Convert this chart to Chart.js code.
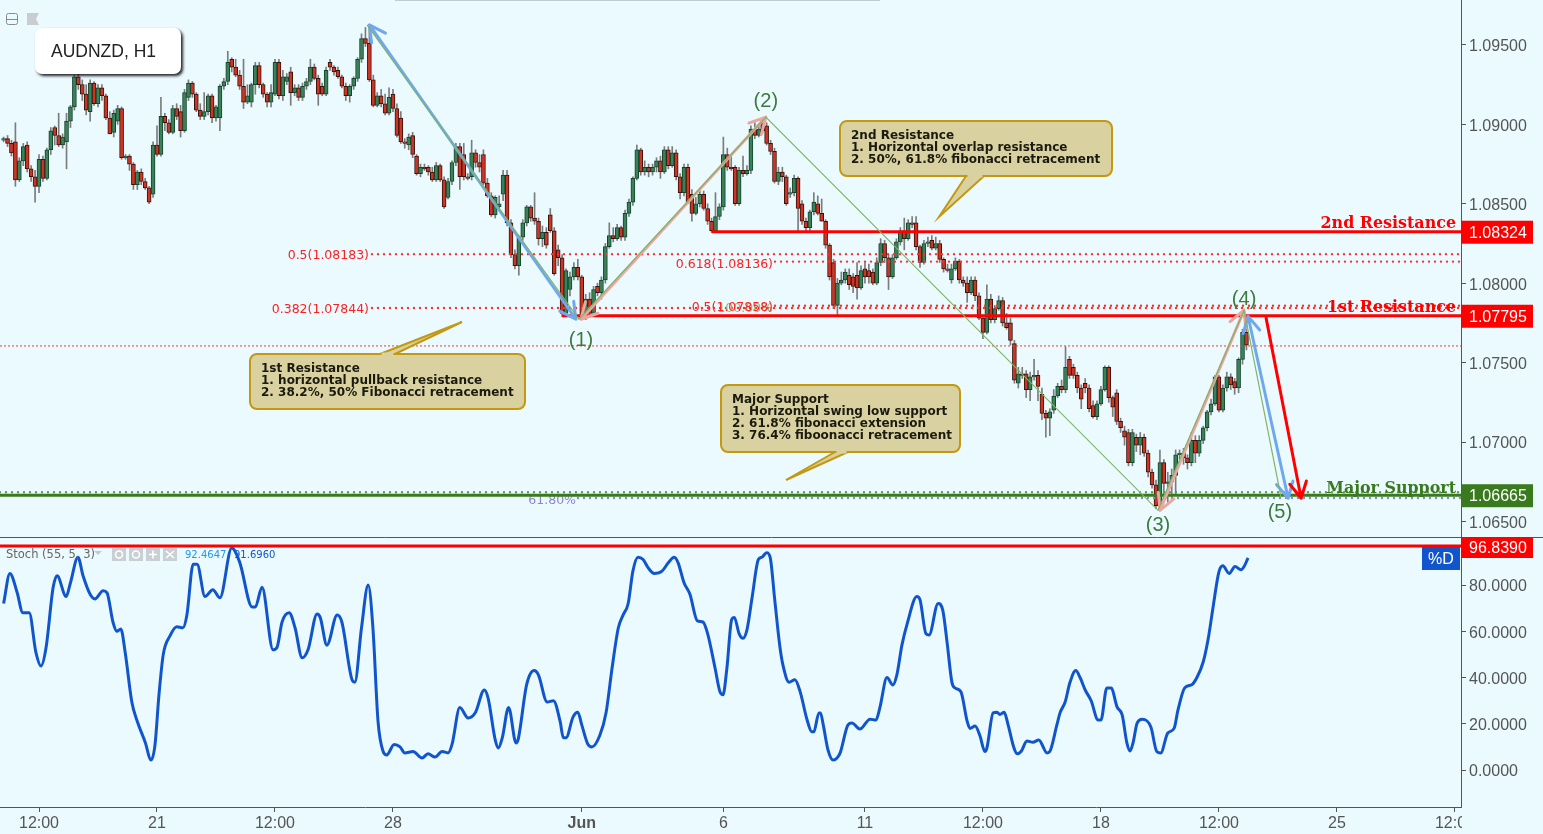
<!DOCTYPE html>
<html>
<head>
<meta charset="utf-8">
<title>AUDNZD, H1</title>
<script src="https://cdn.jsdelivr.net/npm/chart.js@4"></script>
<style>
  html, body { margin: 0; padding: 0; background: #eafaff; overflow: hidden; }
  canvas { display: block; }
</style>
</head>
<body>
<canvas id="myChart" width="1543" height="834"></canvas>
<script>
const opens = [
1.0890,1.0891,1.0888,1.0889,1.0865,1.0877,1.0887,1.0872,1.0867,1.0861,
1.0878,1.0866,1.0884,1.0898,1.0893,1.0887,1.0889,1.0902,1.0911,1.0930,
1.0925,1.0919,1.0908,1.0926,1.0913,1.0923,1.0918,1.0904,1.0895,1.0902,
1.0910,1.0879,1.0880,1.0875,1.0862,1.0870,1.0864,1.0860,1.0856,1.0887,
1.0881,1.0905,1.0901,1.0895,1.0910,1.0908,1.0896,1.0917,1.0926,1.0919,
1.0909,1.0905,1.0908,1.0918,1.0904,1.0904,1.0924,1.0927,1.0941,1.0936,
1.0931,1.0924,1.0914,1.0914,1.0925,1.0937,1.0925,1.0919,1.0914,1.0919,
1.0939,1.0918,1.0927,1.0933,1.0920,1.0923,1.0917,1.0924,1.0927,1.0936,
1.0929,1.0924,1.0919,1.0939,1.0936,1.0934,1.0930,1.0924,1.0918,1.0924,
1.0929,1.0941,1.0954,1.0951,1.0928,1.0912,1.0918,1.0913,1.0907,1.0919,
1.0910,1.0904,1.0889,1.0887,1.0893,1.0880,1.0869,1.0873,1.0873,1.0870,
1.0865,1.0874,1.0865,1.0854,1.0864,1.0876,1.0886,1.0881,1.0867,1.0867,
1.0882,1.0876,1.0881,1.0863,1.0855,1.0843,1.0848,1.0856,1.0868,1.0838,
1.0818,1.0811,1.0829,1.0838,1.0848,1.0841,1.0839,1.0828,1.0832,1.0843,
1.0833,1.0821,1.0816,1.0781,1.0796,1.0804,1.0810,1.0804,1.0778,1.0790,
1.0781,1.0798,1.0794,1.0802,1.0823,1.0830,1.0828,1.0835,1.0829,1.0844,
1.0851,1.0866,1.0884,1.0870,1.0873,1.0870,1.0873,1.0877,1.0870,1.0884,
1.0874,1.0882,1.0867,1.0857,1.0873,1.0856,1.0844,1.0850,1.0856,1.0847,
1.0839,1.0833,1.0842,1.0848,1.0881,1.0873,1.0873,1.0850,1.0871,1.0869,
1.0871,1.0897,1.0893,1.0901,1.0899,1.0888,1.0883,1.0864,1.0870,1.0867,
1.0856,1.0857,1.0866,1.0850,1.0839,1.0835,1.0845,1.0850,1.0844,1.0839,
1.0824,1.0813,1.0786,1.0800,1.0802,1.0805,1.0804,1.0805,1.0797,1.0809,
1.0808,1.0807,1.0800,1.0813,1.0825,1.0816,1.0804,1.0816,1.0826,1.0833,
1.0828,1.0838,1.0838,1.0823,1.0813,1.0825,1.0827,1.0822,1.0825,1.0815,
1.0809,1.0802,1.0809,1.0814,1.0802,1.0800,1.0794,1.0802,1.0792,1.0778,
1.0769,1.0790,1.0777,1.0784,1.0789,1.0775,1.0775,1.0762,1.0737,1.0743,
1.0743,1.0733,1.0741,1.0742,1.0730,1.0718,1.0715,1.0720,1.0729,1.0735,
1.0733,1.0752,1.0747,1.0742,1.0734,1.0737,1.0734,1.0723,1.0716,1.0724,
1.0733,1.0747,1.0728,1.0731,1.0713,1.0707,1.0706,1.0687,1.0703,1.0698,
1.0703,1.0693,1.0681,1.0673,1.0660,1.0687,1.0674,1.0675,1.0679,1.0692,
1.0693,1.0690,1.0687,1.0701,1.0693,1.0701,1.0709,1.0719,1.0724,1.0741,
1.0720,1.0734,1.0741,1.0738,1.0734,1.0752,1.0769
];
const closes = [
1.0891,1.0888,1.0882,1.0865,1.0877,1.0886,1.0872,1.0867,1.0861,1.0878,
1.0866,1.0884,1.0896,1.0893,1.0887,1.0892,1.0902,1.0911,1.0930,1.0925,
1.0919,1.0909,1.0926,1.0913,1.0923,1.0918,1.0904,1.0894,1.0907,1.0910,
1.0879,1.0880,1.0875,1.0862,1.0870,1.0864,1.0860,1.0851,1.0887,1.0881,
1.0905,1.0901,1.0895,1.0910,1.0905,1.0896,1.0920,1.0926,1.0919,1.0909,
1.0905,1.0908,1.0918,1.0904,1.0911,1.0924,1.0927,1.0939,1.0936,1.0931,
1.0924,1.0914,1.0918,1.0925,1.0937,1.0925,1.0919,1.0914,1.0920,1.0939,
1.0918,1.0930,1.0930,1.0920,1.0923,1.0917,1.0924,1.0927,1.0936,1.0929,
1.0919,1.0919,1.0934,1.0936,1.0933,1.0930,1.0924,1.0918,1.0924,1.0929,
1.0941,1.0954,1.0951,1.0928,1.0912,1.0918,1.0913,1.0907,1.0917,1.0910,
1.0893,1.0889,1.0888,1.0892,1.0881,1.0869,1.0873,1.0872,1.0870,1.0865,
1.0874,1.0865,1.0848,1.0864,1.0876,1.0886,1.0867,1.0867,1.0866,1.0882,
1.0876,1.0873,1.0863,1.0855,1.0843,1.0854,1.0850,1.0868,1.0838,1.0818,
1.0811,1.0829,1.0838,1.0848,1.0841,1.0839,1.0828,1.0832,1.0824,1.0833,
1.0806,1.0816,1.0781,1.0808,1.0804,1.0810,1.0804,1.0778,1.0790,1.0781,
1.0796,1.0794,1.0802,1.0823,1.0830,1.0828,1.0835,1.0829,1.0844,1.0851,
1.0866,1.0884,1.0870,1.0873,1.0870,1.0873,1.0877,1.0870,1.0884,1.0874,
1.0882,1.0867,1.0857,1.0873,1.0851,1.0844,1.0850,1.0856,1.0847,1.0839,
1.0833,1.0842,1.0848,1.0881,1.0873,1.0872,1.0850,1.0871,1.0869,1.0871,
1.0897,1.0893,1.0897,1.0896,1.0888,1.0883,1.0864,1.0870,1.0867,1.0850,
1.0857,1.0866,1.0847,1.0839,1.0835,1.0845,1.0851,1.0844,1.0839,1.0824,
1.0804,1.0786,1.0800,1.0802,1.0807,1.0799,1.0798,1.0797,1.0808,1.0804,
1.0804,1.0800,1.0813,1.0825,1.0816,1.0804,1.0816,1.0826,1.0833,1.0828,
1.0838,1.0837,1.0823,1.0813,1.0825,1.0826,1.0822,1.0825,1.0815,1.0809,
1.0808,1.0809,1.0814,1.0802,1.0800,1.0794,1.0802,1.0792,1.0778,1.0769,
1.0790,1.0777,1.0784,1.0789,1.0775,1.0772,1.0764,1.0739,1.0743,1.0742,
1.0733,1.0741,1.0742,1.0735,1.0718,1.0715,1.0719,1.0729,1.0735,1.0733,
1.0747,1.0742,1.0742,1.0734,1.0727,1.0734,1.0721,1.0716,1.0724,1.0733,
1.0747,1.0728,1.0722,1.0713,1.0709,1.0703,1.0687,1.0706,1.0698,1.0703,
1.0693,1.0681,1.0673,1.0660,1.0687,1.0674,1.0675,1.0679,1.0692,1.0693,
1.0690,1.0687,1.0701,1.0693,1.0701,1.0709,1.0719,1.0724,1.0741,1.0720,
1.0734,1.0741,1.0736,1.0734,1.0752,1.0769,1.0761
];
const highs = [
1.0892,1.0893,1.0890,1.0901,1.0879,1.0888,1.0889,1.0874,1.0871,1.0881,
1.0880,1.0885,1.0898,1.0899,1.0907,1.0894,1.0907,1.0912,1.0931,1.0933,
1.0928,1.0925,1.0928,1.0927,1.0925,1.0925,1.0919,1.0908,1.0909,1.0912,
1.0911,1.0881,1.0881,1.0876,1.0871,1.0872,1.0866,1.0861,1.0889,1.0899,
1.0917,1.0907,1.0903,1.0912,1.0913,1.0912,1.0922,1.0928,1.0927,1.0920,
1.0913,1.0920,1.0919,1.0919,1.0912,1.0925,1.0929,1.0946,1.0942,1.0941,
1.0934,1.0941,1.0925,1.0926,1.0939,1.0939,1.0926,1.0920,1.0925,1.0941,
1.0941,1.0934,1.0932,1.0936,1.0925,1.0925,1.0926,1.0929,1.0941,1.0938,
1.0931,1.0926,1.0936,1.0941,1.0937,1.0936,1.0931,1.0926,1.0925,1.0930,
1.0942,1.0957,1.0961,1.0961,1.0931,1.0920,1.0922,1.0919,1.0923,1.0922,
1.0913,1.0908,1.0891,1.0894,1.0895,1.0881,1.0875,1.0875,1.0874,1.0873,
1.0876,1.0875,1.0867,1.0866,1.0877,1.0888,1.0888,1.0888,1.0869,1.0890,
1.0884,1.0881,1.0884,1.0866,1.0857,1.0855,1.0855,1.0871,1.0871,1.0840,
1.0821,1.0830,1.0840,1.0849,1.0849,1.0857,1.0841,1.0836,1.0835,1.0847,
1.0835,1.0824,1.0818,1.0809,1.0807,1.0813,1.0815,1.0805,1.0793,1.0794,
1.0798,1.0800,1.0804,1.0825,1.0838,1.0835,1.0837,1.0836,1.0846,1.0853,
1.0867,1.0887,1.0885,1.0877,1.0875,1.0875,1.0879,1.0880,1.0886,1.0886,
1.0886,1.0884,1.0869,1.0875,1.0875,1.0859,1.0854,1.0859,1.0858,1.0850,
1.0841,1.0857,1.0850,1.0892,1.0885,1.0881,1.0874,1.0873,1.0880,1.0874,
1.0899,1.0901,1.0899,1.0904,1.0901,1.0890,1.0885,1.0873,1.0873,1.0868,
1.0860,1.0868,1.0867,1.0852,1.0841,1.0846,1.0857,1.0855,1.0853,1.0840,
1.0825,1.0815,1.0803,1.0807,1.0809,1.0809,1.0806,1.0813,1.0811,1.0813,
1.0812,1.0809,1.0816,1.0828,1.0827,1.0818,1.0818,1.0828,1.0835,1.0841,
1.0840,1.0842,1.0842,1.0824,1.0827,1.0829,1.0830,1.0829,1.0827,1.0816,
1.0812,1.0812,1.0816,1.0815,1.0804,1.0804,1.0804,1.0804,1.0794,1.0780,
1.0799,1.0793,1.0786,1.0792,1.0791,1.0781,1.0778,1.0764,1.0747,1.0747,
1.0745,1.0744,1.0752,1.0745,1.0734,1.0720,1.0721,1.0733,1.0737,1.0739,
1.0760,1.0754,1.0749,1.0744,1.0736,1.0740,1.0736,1.0726,1.0726,1.0735,
1.0748,1.0748,1.0729,1.0733,1.0715,1.0710,1.0708,1.0708,1.0705,1.0706,
1.0705,1.0695,1.0683,1.0676,1.0695,1.0689,1.0681,1.0683,1.0695,1.0695,
1.0696,1.0692,1.0706,1.0704,1.0704,1.0710,1.0720,1.0727,1.0742,1.0742,
1.0736,1.0744,1.0743,1.0740,1.0753,1.0771,1.0778
];
const lows = [
1.0889,1.0886,1.0880,1.0861,1.0864,1.0874,1.0870,1.0864,1.0851,1.0857,
1.0864,1.0865,1.0881,1.0887,1.0886,1.0885,1.0872,1.0898,1.0909,1.0922,
1.0915,1.0906,1.0902,1.0912,1.0911,1.0915,1.0903,1.0894,1.0892,1.0900,
1.0878,1.0878,1.0871,1.0859,1.0859,1.0862,1.0859,1.0850,1.0854,1.0880,
1.0880,1.0896,1.0894,1.0894,1.0903,1.0892,1.0895,1.0915,1.0917,1.0908,
1.0903,1.0903,1.0906,1.0901,1.0902,1.0896,1.0922,1.0925,1.0933,1.0930,
1.0922,1.0910,1.0913,1.0911,1.0919,1.0923,1.0917,1.0911,1.0911,1.0918,
1.0916,1.0915,1.0925,1.0912,1.0918,1.0915,1.0915,1.0922,1.0925,1.0928,
1.0912,1.0918,1.0918,1.0934,1.0931,1.0929,1.0923,1.0915,1.0914,1.0922,
1.0927,1.0939,1.0949,1.0927,1.0911,1.0911,1.0911,1.0906,1.0906,1.0908,
1.0892,1.0888,1.0885,1.0884,1.0879,1.0868,1.0867,1.0871,1.0868,1.0864,
1.0864,1.0864,1.0847,1.0853,1.0862,1.0874,1.0859,1.0865,1.0865,1.0865,
1.0873,1.0870,1.0862,1.0854,1.0842,1.0841,1.0846,1.0852,1.0836,1.0816,
1.0809,1.0805,1.0827,1.0836,1.0839,1.0837,1.0824,1.0823,1.0822,1.0832,
1.0805,1.0811,1.0779,1.0780,1.0792,1.0802,1.0802,1.0777,1.0777,1.0780,
1.0779,1.0792,1.0790,1.0800,1.0822,1.0826,1.0827,1.0827,1.0827,1.0842,
1.0849,1.0865,1.0868,1.0868,1.0867,1.0868,1.0870,1.0866,1.0869,1.0872,
1.0873,1.0865,1.0853,1.0855,1.0850,1.0839,1.0843,1.0848,1.0846,1.0837,
1.0832,1.0832,1.0840,1.0846,1.0871,1.0871,1.0849,1.0849,1.0867,1.0868,
1.0869,1.0891,1.0892,1.0895,1.0887,1.0881,1.0863,1.0862,1.0864,1.0849,
1.0854,1.0855,1.0833,1.0837,1.0832,1.0832,1.0843,1.0843,1.0839,1.0822,
1.0802,1.0784,1.0779,1.0799,1.0800,1.0796,1.0794,1.0790,1.0796,1.0800,
1.0800,1.0799,1.0799,1.0811,1.0813,1.0796,1.0803,1.0815,1.0824,1.0821,
1.0827,1.0835,1.0821,1.0810,1.0812,1.0823,1.0821,1.0821,1.0813,1.0807,
1.0807,1.0800,1.0808,1.0800,1.0798,1.0788,1.0793,1.0789,1.0777,1.0765,
1.0768,1.0775,1.0775,1.0783,1.0773,1.0771,1.0761,1.0737,1.0734,1.0740,
1.0728,1.0726,1.0739,1.0726,1.0714,1.0703,1.0704,1.0718,1.0728,1.0731,
1.0731,1.0740,1.0740,1.0731,1.0721,1.0731,1.0719,1.0715,1.0714,1.0723,
1.0732,1.0725,1.0716,1.0711,1.0706,1.0698,1.0685,1.0685,1.0694,1.0692,
1.0691,1.0678,1.0671,1.0658,1.0657,1.0663,1.0662,1.0664,1.0667,1.0689,
1.0686,1.0683,1.0685,1.0687,1.0691,1.0699,1.0707,1.0717,1.0723,1.0719,
1.0719,1.0732,1.0733,1.0730,1.0731,1.0749,1.0758
];

const stochBars = [
0,1.6,3.4,4.9,6.5,8.2,9.5,10.8,12.6,13.6,15.9,17,18.9,20.2,22,23.2,25.3,26.3,27.8,28.8,
29.8,30.9,32.6,34,36,37.5,38.5,39.5,40.6,42.3,44,45.6,46.6,48.2,49.2,51.2,53.2,55,58,60,
63.2,64,65.7,68.5,69.5,70.8,72.6,74.1,75.9,77.4,79.7,80.5,82.2,84.8,86,88.6,89.3,91,92.7,93.9,
95.2,96.5,97.4,99.3,100.8,102,104.1,106.4,107.9,109.7,111.5,113,114,116,118.1,120,122.2,123.2,125,125.8,
126.8,128.4,130.3,130.8,133,134.9,136,138.2,139.8,141.5,142.3,143,144.8,146,147,148.6,149.6,151.6,153.2,154.7,
156.3,157.5,158.8,160,161.3,162.6,163.9,165.4,167.4,169,170.5,171.5,173,174.5,176.4,177.8,179,180.9,182.1,182.9,
183.9,185.1,185.8,187,188,189,190.3,191.9,192.8,194,194.9,196.1,197.4,198.2,199.7,201.2,202.5,204.3,205.5,206,
207.3,207.7,208.4,209.6,210.9,211.9,212.7,214.7,215.7,217.7,220.3,221.8,222.8,224.6,226.1,227.1,228.4,229.7,232.2,233,
234.5,235.3,237.6,238.8,239.9,241.1,241.9,243.4,245,245.7,247,248.2,249.5,250,251.6,252.6,253.3,254.4,255.4,256.9,
257.7,258.7,260.2,261.7,263.2,265.3,266,267.8,268.6,269.9,271.1,272.6,273.7,275,276.5,278.3,279,280.5,281.6,283.1,
284.4,285.6,286.4,287.2,288.2,289.5,291.7,293.2,294.2,296,297.6,298.6,300.3,302.2,303.4,305,306.3,307.6,309,310,
311.6,313.1,314.6,315.4,316.4
];
const stochValues = [
72,85,77,68,68,51,45,53,79,84,75,81,92,84,76,74,77.5,76.6,64,60,
61,51,29.4,21,12,4.3,11,32.5,50,58,62,61.5,67,89,89,75,78,74.5,96,90,
70.5,70.5,79,52,53,64,68,61.5,48.5,52,67.5,66,54,67,64,39,38,61.5,80,61.5,
21,8,6.5,11,10,7.4,8,5.2,7,5.6,8,7.4,11,27,22.5,25,34.6,31,13,9.5,
14,27,11.7,13,37,43,41,29.4,30,21,14,14,23,25,19.5,11,10,15,25,44,
61.5,67,72,86,92,91,87.4,85,86,89.6,92,89.6,81,76,64.5,64,59,44,34,32.5,
44,65,66,59,57,60.6,74.5,91,92,94,92,73,53,45,38,39,34,21.6,16.5,16.5,
24.7,24.7,19.5,8.7,4.3,5.2,7.4,19.5,20.3,17.7,22,21.6,27,40,36.8,41,54,63,75,73.6,
59,58.4,72,69,55,38,35.5,33.8,21,18,19,15,8,9.5,24.7,25,24,25,19.5,9.5,
7,8,12.5,12,13,7.4,8,19.5,24.7,29.4,37.7,43,40,34.6,30,21.6,21.6,35.5,35.5,27.3,
23.8,11.7,8.2,12,20.3,22,18.6,8,7.4,16,18,26,35.5,37,40,46.7,57,71.4,85.7,88.3,
85,88,86.6,88,91.7
];

const priceTicks = [1.095, 1.09, 1.085, 1.08, 1.075, 1.07, 1.065];
const stochTicks = [80, 60, 40, 20, 0];
const timeTickBars = [9, 39, 69, 99, 147, 183, 219, 249, 279, 309, 339, 369];
const timeTickLabels = ["12:00", "21", "12:00", "28", "Jun", "6", "11", "12:00", "18", "12:00", "25", "12:00"];

// wave points: top, (1), (2), (3), (4), (5)
const waveBars = [92.4, 146.3, 193.8, 293.5, 315.4, 324.8];
const wavePrices = [1.09626, 1.07773, 1.09046, 1.0657, 1.0783, 1.06652];
const waveLabels = ["(1)", "(2)", "(3)", "(4)", "(5)"];
const waveLabelBars = [146.8, 193.8, 293.5, 315.4, 324.5];
const waveLabelPrices = [1.07647, 1.09153, 1.06482, 1.07906, 1.06564];

const resistance2 = 1.08324;
const resistance1 = 1.07795;
const majorSupport = 1.06665;
const lastPrice = 1.07605;
const stochLevel = 96.839;

const BG = "#eafaff";
const GREY = "#555555";

const wickRows = closes.map((c, i) => ({ x: i, y: [lows[i], highs[i]] }));
const upRows = closes.map((c, i) => ({ x: i, y: [opens[i], c] })).filter((b) => b.y[1] >= b.y[0]);
const downRows = closes.map((c, i) => ({ x: i, y: [opens[i], c] })).filter((b) => b.y[1] < b.y[0]);

function callout(ctx, box, tail, lines, textX, firstY) {
  ctx.save();
  ctx.fillStyle = "#d9d19f";
  ctx.strokeStyle = "#c4980f";
  ctx.lineWidth = 2;
  ctx.beginPath();
  ctx.moveTo(tail[0], tail[1]);
  ctx.lineTo(tail[2], tail[3]);
  ctx.lineTo(tail[4], tail[5]);
  ctx.closePath();
  ctx.fill();
  ctx.stroke();
  ctx.beginPath();
  ctx.roundRect(box[0], box[1], box[2], box[3], 7);
  ctx.fill();
  ctx.stroke();
  // open the border where the tail joins the box
  ctx.beginPath();
  ctx.moveTo(tail[0] + 1.5, tail[1]);
  ctx.lineTo(tail[4] - 1.5, tail[5]);
  ctx.strokeStyle = "#d9d19f";
  ctx.lineWidth = 3;
  ctx.stroke();
  ctx.fillStyle = "#1a1a10";
  ctx.font = "bold 12px 'DejaVu Sans'";
  ctx.textBaseline = "middle";
  ctx.textAlign = "left";
  lines.forEach((t, i) => ctx.fillText(t, textX, firstY + i * 12));
  ctx.restore();
}

function hline(ctx, x1, x2, y, color, width, dash, cap) {
  ctx.save();
  ctx.beginPath();
  ctx.moveTo(x1, y);
  ctx.lineTo(x2, y);
  ctx.strokeStyle = color;
  ctx.lineWidth = width;
  if (dash) ctx.setLineDash(dash);
  if (cap) ctx.lineCap = cap;
  ctx.stroke();
  ctx.restore();
}

function arrow(ctx, x1, y1, x2, y2, color, both) {
  ctx.save();
  ctx.strokeStyle = color;
  ctx.lineWidth = 3;
  ctx.lineCap = "round";
  ctx.lineJoin = "round";
  ctx.beginPath();
  ctx.moveTo(x1, y1);
  ctx.lineTo(x2, y2);
  const head = (tx, ty, fx, fy) => {
    const a = Math.atan2(fy - ty, fx - tx);
    const d = 0.49;
    ctx.moveTo(tx + 18 * Math.cos(a + d), ty + 18 * Math.sin(a + d));
    ctx.lineTo(tx, ty);
    ctx.lineTo(tx + 18 * Math.cos(a - d), ty + 18 * Math.sin(a - d));
  };
  head(x2, y2, x1, y1);
  if (both) head(x1, y1, x2, y2);
  ctx.stroke();
  ctx.restore();
}

function tag(ctx, x, y, w, h, color, text, align) {
  ctx.save();
  ctx.fillStyle = color;
  ctx.fillRect(x, y, w, h);
  ctx.fillStyle = "#ffffff";
  ctx.font = "16px 'Liberation Sans'";
  ctx.textBaseline = "middle";
  ctx.textAlign = align || "left";
  ctx.fillText(text, align === "center" ? x + w / 2 : x + 8, y + h / 2 + 1);
  ctx.restore();
}

function label(ctx, text, x, y, font, color, align) {
  ctx.save();
  ctx.font = font;
  ctx.fillStyle = color;
  ctx.textAlign = align || "left";
  ctx.textBaseline = "middle";
  ctx.fillText(text, x, y);
  ctx.restore();
}

const noPad = (s) => {
  s.width = 82;
  s.paddingTop = 0;
  s.paddingBottom = 0;
};

const overlay = {
  id: "overlay",
  afterDatasetsDraw(chart) {
    const ctx = chart.ctx;
    const sx = chart.scales.x;
    const sy = chart.scales.price;
    const st = chart.scales.stoch;
    const X = (v) => sx.getPixelForValue(v);
    const Y = (v) => sy.getPixelForValue(v);
    const right = sx.right;

    // faint edge of a panel cut off by the top of the picture
    hline(ctx, 395, 880, 0.5, "rgba(110,120,125,0.35)", 1);

    // fibonacci dotted levels
    const dots = [0, 6];
    hline(ctx, 372, right, Y(1.08183), "#ff3030", 2.4, dots, "round");
    hline(ctx, 775, right, Y(1.08136), "#ff3030", 2.4, dots, "round");
    hline(ctx, 372, right, Y(1.07844), "#ff3030", 2.4, dots, "round");
    hline(ctx, 775, right, Y(1.07858), "#ff3030", 2.4, dots, "round");
    hline(ctx, 0, right, Y(1.06684), "#5f9a55", 2.4, dots, "round");
    hline(ctx, 578, right, Y(1.06648), "#8f84d0", 2.4, dots, "round");
    hline(ctx, 0, right, Y(lastPrice), "#f04030", 1, [2, 2]);

    label(ctx, "0.5(1.08183)", 369, Y(1.08183) + 2, "12.5px 'DejaVu Sans'", "#ff2020", "right");
    label(ctx, "0.382(1.07844)", 369, Y(1.07844) + 2, "12.5px 'DejaVu Sans'", "#ff2020", "right");
    label(ctx, "0.618(1.08136)", 773, Y(1.08136) + 3, "12.5px 'DejaVu Sans'", "#ff2020", "right");
    label(ctx, "100.00%", 773, Y(1.07858) + 3, "12.5px 'DejaVu Sans'", "#8cbf73", "right");
    label(ctx, "0.5(1.07858)", 773, Y(1.07858) + 2, "12.5px 'DejaVu Sans'", "#ff2020", "right");
    label(ctx, "61.80%", 576, Y(1.06648) + 3, "12.5px 'DejaVu Sans'", "#8f84d0", "right");

    // support / resistance
    hline(ctx, X(142), right, Y(resistance1), "#ff0000", 3);
    hline(ctx, X(180), right, Y(resistance2), "#ff0000", 3);
    hline(ctx, 0, right, Y(majorSupport), "#3a7a1e", 3);

    // arrows
    arrow(ctx, X(waveBars[0] + 0.6), Y(wavePrices[0]), X(waveBars[1] - 0.8), Y(wavePrices[1]), "#6fa8ee", true);
    arrow(ctx, X(waveBars[1] + 0.5), Y(wavePrices[1]), X(waveBars[2]), Y(wavePrices[2]), "#eba6a0", true);
    arrow(ctx, X(waveBars[3] + 0.5), Y(wavePrices[3]), X(waveBars[4]), Y(wavePrices[4]), "#eba6a0", true);
    arrow(ctx, X(316.4), Y(1.07792), X(326.6), Y(1.06646), "#6fa8ee", true);
    arrow(ctx, X(321), Y(1.0778), X(329.9), Y(1.06646), "#ff0000", false);

    // wave zigzag
    ctx.save();
    ctx.beginPath();
    waveBars.forEach((b, i) => {
      if (i === 0) ctx.moveTo(X(b), Y(wavePrices[i]));
      else ctx.lineTo(X(b), Y(wavePrices[i]));
    });
    ctx.strokeStyle = "#7fb565";
    ctx.lineWidth = 1.2;
    ctx.stroke();
    ctx.restore();

    // wave numbers
    waveLabels.forEach((t, i) => {
      label(ctx, t, X(waveLabelBars[i]), Y(waveLabelPrices[i]) + 1, "20px 'Liberation Sans'", "#3d7a3d", "center");
    });

    // level names
    label(ctx, "2nd Resistance", 1456, Y(resistance2) - 8, "bold 15.9px 'DejaVu Serif'", "#ff0000", "right");
    label(ctx, "1st Resistance", 1456, Y(resistance1) - 8, "bold 15.9px 'DejaVu Serif'", "#ff0000", "right");
    label(ctx, "Major Support", 1456, Y(majorSupport) - 6.5, "bold 15.9px 'DejaVu Serif'", "#3a7a1e", "right");

    // callouts
    callout(ctx, [250, 354, 275, 55], [380, 354, 462, 322, 395, 354],
      ["1st Resistance", "1. horizontal pullback resistance", "2. 38.2%, 50% Fibonacci retracement"], 261, 369);
    callout(ctx, [840, 121, 272, 55], [966, 176, 939, 217, 984, 176],
      ["2nd Resistance", "1. Horizontal overlap resistance", "2. 50%, 61.8% fibonacci retracement"], 851, 136);
    callout(ctx, [721, 385, 239, 67], [835, 452, 786, 480, 848, 452],
      ["Major Support", "1. Horizontal swing low support", "2. 61.8% fibonacci extension", "3. 76.4% fiboonacci retracement"], 732, 400);

    // title box
    ctx.save();
    ctx.shadowColor = "rgba(0,0,0,0.85)";
    ctx.shadowBlur = 3;
    ctx.shadowOffsetX = 2;
    ctx.shadowOffsetY = 2;
    ctx.fillStyle = "#ffffff";
    ctx.beginPath();
    ctx.roundRect(35, 28, 146, 46, 7);
    ctx.fill();
    ctx.restore();
    label(ctx, "AUDNZD, H1", 51, 52, "17.5px 'Liberation Sans'", "#222222");

    // pane controls
    ctx.save();
    ctx.strokeStyle = "#8a8a8a";
    ctx.lineWidth = 1;
    ctx.beginPath();
    ctx.roundRect(6.5, 13.5, 11, 11, 2);
    ctx.moveTo(6.5, 19.5);
    ctx.lineTo(17.5, 19.5);
    ctx.stroke();
    ctx.fillStyle = "#c9cdd0";
    ctx.beginPath();
    ctx.moveTo(27, 13);
    ctx.lineTo(39, 13);
    ctx.lineTo(36, 19);
    ctx.lineTo(39, 25);
    ctx.lineTo(27, 25);
    ctx.closePath();
    ctx.fill();
    ctx.restore();

    // pane separator
    hline(ctx, 0, 1543, 537.5, GREY, 1);

    // stochastic level and legend
    hline(ctx, 0, right, st.getPixelForValue(stochLevel), "#ff0000", 3);
    label(ctx, "Stoch (55, 5, 3)", 6, 555, "11.5px 'DejaVu Sans'", "#666666");
    ctx.save();
    ctx.fillStyle = "#c8c8c8";
    ctx.beginPath();
    ctx.moveTo(94, 551);
    ctx.lineTo(102, 551);
    ctx.lineTo(98, 555);
    ctx.closePath();
    ctx.fill();
    [112, 129, 146, 163].forEach((x) => {
      ctx.fillStyle = "#c8d0d4";
      ctx.fillRect(x, 548, 14, 13);
    });
    ctx.strokeStyle = "#ffffff";
    ctx.lineWidth = 1.6;
    ctx.beginPath();
    ctx.arc(119, 554.5, 3.5, 0, Math.PI * 2);
    ctx.moveTo(139.5, 554.5);
    ctx.arc(136, 554.5, 3.5, 0, Math.PI * 2);
    ctx.moveTo(149, 554.5);
    ctx.lineTo(157, 554.5);
    ctx.moveTo(153, 550.5);
    ctx.lineTo(153, 558.5);
    ctx.moveTo(166, 551);
    ctx.lineTo(174, 558);
    ctx.moveTo(174, 551);
    ctx.lineTo(166, 558);
    ctx.stroke();
    ctx.restore();
    label(ctx, "92.4647", 185, 555, "10px 'DejaVu Sans'", "#2196f3");
    label(ctx, "91.6960", 234, 555, "10px 'DejaVu Sans'", "#1155cc");

    // axis tags
    tag(ctx, 1461, Y(resistance2) - 11, 72, 23, "#ff0000", "1.08324");
    tag(ctx, 1461, Y(resistance1) - 11, 72, 23, "#ff0000", "1.07795");
    tag(ctx, 1461, Y(majorSupport) - 11, 72, 23, "#3a7a1e", "1.06665");
    tag(ctx, 1461, 537, 72, 21, "#ff0000", "96.8390");
    tag(ctx, 1422, 547, 38, 23, "#1155cc", "%D", "center");
  },
  afterDraw(chart) {
    // last time label is cut off by the price axis
    const ctx = chart.ctx;
    ctx.save();
    ctx.fillStyle = BG;
    ctx.fillRect(chart.scales.x.right + 1, chart.scales.x.top + 1, 90, 30);
    ctx.restore();
  },
};

new Chart(document.getElementById("myChart"), {
  type: "bar",
  data: {
    datasets: [
      {
        label: "wicks",
        data: wickRows,
        yAxisID: "price",
        grouped: false,
        barThickness: 1,
        backgroundColor: "#7c7c7c",
        order: 3,
      },
      {
        label: "up",
        data: upRows,
        yAxisID: "price",
        grouped: false,
        barThickness: 4,
        minBarLength: 1,
        backgroundColor: "#3a8058",
        borderColor: "#14442c",
        borderWidth: 1,
        borderSkipped: false,
        order: 2,
      },
      {
        label: "down",
        data: downRows,
        yAxisID: "price",
        grouped: false,
        barThickness: 4,
        minBarLength: 1,
        backgroundColor: "#cc3524",
        borderColor: "#3a120c",
        borderWidth: 1,
        borderSkipped: false,
        order: 2,
      },
      {
        type: "line",
        label: "%D",
        data: stochBars.map((b, i) => ({ x: b, y: stochValues[i] })),
        yAxisID: "stoch",
        borderColor: "#1155cc",
        borderWidth: 3,
        pointRadius: 0,
        cubicInterpolationMode: "monotone",
        order: 1,
      },
    ],
  },
  options: {
    responsive: false,
    animation: false,
    events: [],
    layout: { padding: 0 },
    plugins: { legend: { display: false }, tooltip: { enabled: false } },
    scales: {
      x: {
        type: "linear",
        min: -0.916,
        max: 370.55,
        offset: false,
        afterBuildTicks: (s) => { s.ticks = timeTickBars.map((v) => ({ value: v })); },
        afterFit: (s) => { s.height = 27; },
        grid: { offset: false, drawOnChartArea: false, color: GREY, tickLength: 5 },
        border: { color: GREY },
        ticks: {
          autoSkip: false,
          maxRotation: 0,
          padding: 2,
          color: GREY,
          font: (c) => ({
            family: "'Liberation Sans'",
            size: 16,
            weight: c.tick && timeTickLabels[timeTickBars.indexOf(c.tick.value)] === "Jun" ? "bold" : "normal",
          }),
          callback: (v) => timeTickLabels[timeTickBars.indexOf(v)],
        },
      },
      price: {
        type: "linear",
        position: "right",
        stack: "panes",
        stackWeight: 537,
        min: 1.06402,
        max: 1.09783,
        afterBuildTicks: (s) => { s.ticks = priceTicks.map((v) => ({ value: v })); },
        afterFit: noPad,
        grid: { drawOnChartArea: false, color: GREY, tickLength: 5 },
        border: { color: GREY },
        ticks: {
          padding: 3,
          labelOffset: 2,
          color: GREY,
          font: { family: "'Liberation Sans'", size: 16 },
          callback: (v) => v.toFixed(5),
        },
      },
      stoch: {
        type: "linear",
        position: "right",
        stack: "panes",
        stackWeight: 270,
        min: -16,
        max: 100.76,
        afterBuildTicks: (s) => { s.ticks = stochTicks.map((v) => ({ value: v })); },
        afterFit: noPad,
        grid: { drawOnChartArea: false, color: GREY, tickLength: 5 },
        border: { color: GREY },
        ticks: {
          padding: 3,
          labelOffset: 2,
          color: GREY,
          font: { family: "'Liberation Sans'", size: 16 },
          callback: (v) => v.toFixed(4),
        },
      },
    },
  },
  plugins: [overlay],
});
</script>
</body>
</html>
